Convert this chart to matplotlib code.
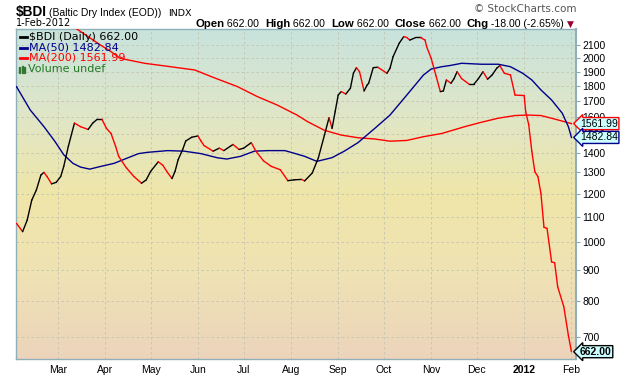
import numpy as np
import matplotlib
matplotlib.use("Agg")
import matplotlib.pyplot as plt
import matplotlib.dates as mdates
from matplotlib.colors import LinearSegmentedColormap
from matplotlib.transforms import blended_transform_factory
from matplotlib.patches import Rectangle

# ---- data ----
bdi_dates = ["2011-02-02", "2011-02-06", "2011-02-09", "2011-02-12", "2011-02-15", "2011-02-18",
             "2011-02-20", "2011-02-22", "2011-02-25", "2011-02-28", "2011-03-03", "2011-03-05",
             "2011-03-08", "2011-03-12", "2011-03-16", "2011-03-21", "2011-03-24", "2011-03-27",
             "2011-03-30", "2011-04-02", "2011-04-05", "2011-04-08", "2011-04-10", "2011-04-15",
             "2011-04-20", "2011-04-25", "2011-04-28", "2011-05-01", "2011-05-06", "2011-05-09",
             "2011-05-12", "2011-05-15", "2011-05-17", "2011-05-19", "2011-05-22", "2011-05-24",
             "2011-05-28", "2011-06-01", "2011-06-03", "2011-06-05", "2011-06-11", "2011-06-15",
             "2011-06-18", "2011-06-24", "2011-06-28", "2011-07-01", "2011-07-06", "2011-07-09",
             "2011-07-14", "2011-07-19", "2011-07-25", "2011-07-30", "2011-08-03", "2011-08-08",
             "2011-08-10", "2011-08-15", "2011-08-19", "2011-08-23", "2011-08-26", "2011-08-28",
             "2011-08-30", "2011-09-01", "2011-09-03", "2011-09-06", "2011-09-09", "2011-09-11",
             "2011-09-13", "2011-09-15", "2011-09-18", "2011-09-20", "2011-09-21", "2011-09-24",
             "2011-09-27", "2011-10-03", "2011-10-05", "2011-10-07", "2011-10-11", "2011-10-14",
             "2011-10-16", "2011-10-18", "2011-10-22", "2011-10-25", "2011-10-28", "2011-10-29",
             "2011-11-01", "2011-11-04", "2011-11-07", "2011-11-09", "2011-11-11", "2011-11-14",
             "2011-11-16", "2011-11-18", "2011-11-21", "2011-11-26", "2011-11-29", "2011-12-02",
             "2011-12-05", "2011-12-08", "2011-12-11", "2011-12-14", "2011-12-16", "2011-12-19",
             "2011-12-23", "2011-12-26", "2012-01-01", "2012-01-02", "2012-01-04", "2012-01-06",
             "2012-01-08", "2012-01-10", "2012-01-12", "2012-01-14", "2012-01-16", "2012-01-19",
             "2012-01-21", "2012-01-23", "2012-01-27", "2012-01-30", "2012-02-01"]
bdi_values = [1073, 1040, 1086, 1171, 1216, 1287,
              1300, 1280, 1245, 1252, 1280, 1330,
              1434, 1565, 1544, 1528, 1565, 1588,
              1588, 1534, 1505, 1434, 1381, 1323,
              1280, 1248, 1263, 1305, 1353, 1335,
              1300, 1270, 1305, 1363, 1417, 1463,
              1484, 1491, 1463, 1438, 1408, 1424,
              1411, 1444, 1417, 1424, 1454, 1408,
              1358, 1330, 1313, 1260, 1264, 1266,
              1259, 1297, 1373, 1496, 1597, 1534,
              1633, 1739, 1762, 1746, 1784, 1888,
              1928, 1899, 1766, 1806, 1818, 1928,
              1931, 1888, 1924, 2009, 2113, 2167,
              2160, 2139, 2160, 2160, 2139, 2087,
              1997, 1876, 1762, 1766, 1841, 1818,
              1850, 1899, 1850, 1811, 1811, 1850,
              1899, 1846, 1876, 1924, 1943, 1888,
              1876, 1739, 1736, 1633, 1555, 1408,
              1303, 1280, 1201, 1057, 1053, 928,
              925, 845, 784, 704, 662]

ma50_dates = ["2011-02-02", "2011-02-11", "2011-02-20", "2011-02-27", "2011-03-05", "2011-03-11",
              "2011-03-16", "2011-03-22", "2011-03-29", "2011-04-07", "2011-04-16", "2011-04-23",
              "2011-04-29", "2011-05-08", "2011-05-12", "2011-05-23", "2011-06-03", "2011-06-14",
              "2011-06-20", "2011-06-29", "2011-07-08", "2011-07-17", "2011-07-28", "2011-08-01",
              "2011-08-10", "2011-08-18", "2011-08-28", "2011-09-05", "2011-09-14", "2011-09-25",
              "2011-10-05", "2011-10-16", "2011-10-27", "2011-11-01", "2011-11-08", "2011-11-13",
              "2011-11-21", "2011-12-04", "2011-12-15", "2011-12-23", "2011-12-31", "2012-01-06",
              "2012-01-12", "2012-01-19", "2012-01-26", "2012-01-30", "2012-02-01"]
ma50_values = [1795, 1644, 1544, 1463, 1389, 1345,
               1326, 1316, 1329, 1345, 1373, 1395,
               1402, 1408, 1411, 1408, 1395, 1373,
               1367, 1381, 1408, 1411, 1411, 1402,
               1381, 1355, 1374, 1408, 1454, 1534,
               1613, 1739, 1876, 1918, 1935, 1943,
               1960, 1953, 1953, 1935, 1888, 1841,
               1773, 1707, 1624, 1544, 1482.84]

ma200_dates = ["2011-03-13", "2011-03-29", "2011-04-05", "2011-04-11", "2011-04-27", "2011-05-14",
               "2011-05-30", "2011-06-10", "2011-06-27", "2011-07-10", "2011-07-23", "2011-08-05",
               "2011-08-12", "2011-08-23", "2011-09-03", "2011-09-14", "2011-09-25", "2011-10-05",
               "2011-10-16", "2011-10-27", "2011-11-08", "2011-11-23", "2011-12-04", "2011-12-15",
               "2011-12-26", "2012-01-03", "2012-01-12", "2012-01-21", "2012-02-01"]
ma200_values = [2235, 2100, 2048, 1997, 1960, 1935,
                1911, 1863, 1795, 1729, 1675, 1613,
                1573, 1523, 1496, 1481, 1474, 1462,
                1466, 1487, 1505, 1544, 1570, 1594,
                1610, 1613, 1610, 1589, 1561.99]

y_ticks = [700, 800, 900, 1000, 1100, 1200, 1300, 1400, 1500, 1600, 1700, 1800, 1900, 2000, 2100]
month_ticks = ["2011-03-01", "2011-04-01", "2011-05-01", "2011-06-01", "2011-07-01", "2011-08-01",
               "2011-09-01", "2011-10-01", "2011-11-01", "2011-12-01", "2012-01-01", "2012-02-01"]
month_labels = ["Mar", "Apr", "May", "Jun", "Jul", "Aug", "Sep", "Oct", "Nov", "Dec", "2012", "Feb"]

W, H = 620, 376


def fx(px):
    return px / W


def fy(py):
    return 1 - py / H


fig = plt.figure(figsize=(W / 100, H / 100), dpi=100)
fig.patch.set_facecolor("white")
ax = fig.add_axes([fx(16), 1 - 359 / H, 560 / W, 330 / H])

# background gradient
bg = LinearSegmentedColormap.from_list("bg", ["#ecd4bb", "#efe2b4", "#efe6a9", "#dfe6c8", "#c8e3dd"])
grad = np.linspace(0, 1, 256).reshape(-1, 1)
ax.imshow(grad, cmap=bg, extent=[0, 1, 0, 1], transform=ax.transAxes,
          aspect="auto", origin="lower", zorder=0)

to_num = lambda ds: mdates.date2num(np.array(ds, dtype="datetime64[D]"))
bx = to_num(bdi_dates)

ax.plot(to_num(ma200_dates), ma200_values, color="#ff0000", lw=1.0, zorder=3)
ax.plot(to_num(ma50_dates), ma50_values, color="#00008b", lw=1.0, zorder=3)
for i in range(len(bx) - 1):
    c = "black" if bdi_values[i + 1] >= bdi_values[i] else "#ff0000"
    ax.plot(bx[i:i + 2], bdi_values[i:i + 2], color=c, lw=1.0, zorder=4,
            solid_capstyle="round")

ax.set_yscale("log")
ax.set_ylim(644, 2230)
ax.set_xlim(mdates.date2num(np.datetime64("2011-02-01T16:00")),
            mdates.date2num(np.datetime64("2012-02-04")))
ax.yaxis.tick_right()
ax.set_yticks(y_ticks)
ax.set_yticklabels([str(v) for v in y_ticks])
ax.yaxis.set_minor_locator(matplotlib.ticker.NullLocator())
ax.set_xticks(to_num(month_ticks))
ax.set_xticklabels(month_labels)
for lab in ax.get_xticklabels() + ax.get_yticklabels():
    lab.set_fontfamily("Liberation Sans")
    lab.set_fontsize(7.5)
ax.get_xticklabels()[10].set_fontweight("bold")
ax.tick_params(axis="y", length=3, pad=1.5, color="#8aaab0")
ax.tick_params(axis="x", length=0, pad=4)
ax.grid(True, color="#c4c4b0", lw=0.6, linestyle=(0, (3, 3)))
for s in ax.spines.values():
    s.set_color("#8fb0b8")
    s.set_linewidth(1.0)
ax.spines["right"].set_linewidth(1.5)

# value tags on the right
tr = blended_transform_factory(fig.transFigure, ax.transData)
tag_kw = dict(transform=tr, ha="left", va="center", fontsize=7.5, family="Liberation Sans", zorder=10,
              clip_on=False)
ax.text(fx(580), ma200_values[-1], "1561.99",
        bbox=dict(boxstyle="larrow,pad=0.1", fc="#ccffff", ec="#ff0000", lw=1), **tag_kw)
ax.text(fx(580), ma50_values[-1], "1482.84",
        bbox=dict(boxstyle="larrow,pad=0.1", fc="#ccffff", ec="#00008b", lw=1), **tag_kw)
ax.text(fx(580), bdi_values[-1], "662.00", fontweight="bold",
        bbox=dict(boxstyle="larrow,pad=0.1", fc="#ccffff", ec="black", lw=1), **tag_kw)

# legend
leg = [("$BDI (Daily) 662.00", "black", 37),
       ("MA(50) 1482.84", "#00008b", 47.5),
       ("MA(200) 1561.99", "#ff0000", 58)]
for txt, c, y in leg:
    fig.add_artist(plt.Line2D([fx(20), fx(27)], [fy(y), fy(y)], color=c, lw=2))
    fig.text(fx(29.5), fy(y), txt, color=c, fontsize=8, va="center", family="DejaVu Sans")
for bx0, bh in [(19, 5), (21.5, 7), (24, 6)]:
    fig.add_artist(Rectangle((fx(bx0), fy(72.5)), 1.3 / W, bh / H, color="#337733",
                             transform=fig.transFigure))
fig.text(fx(27.5), fy(68.5), "Volume undef", color="#227722", fontsize=8, va="center",
         family="DejaVu Sans")

# header
fig.canvas.draw()
r = fig.canvas.get_renderer()
fig.text(fx(16), fy(16), "$BDI", fontsize=9.8, fontweight="bold", family="Liberation Sans")
fig.text(fx(49), fy(15.5), "(Baltic Dry Index (EOD))", fontsize=7.5, family="Liberation Sans")
fig.text(fx(168), fy(15.5), "INDX", fontsize=6.8, family="DejaVu Sans")
fig.text(fx(16), fy(26.5), "1-Feb-2012", fontsize=7, family="DejaVu Sans")
fig.text(fx(576), fy(12), "\u00a9 StockCharts.com", fontsize=7.5, ha="right", color="#555555",
         family="DejaVu Sans")

parts = [("Open", "bold"), (" 662.00  ", "normal"), ("High", "bold"), (" 662.00  ", "normal"),
         ("Low", "bold"), (" 662.00  ", "normal"), ("Close", "bold"), (" 662.00  ", "normal"),
         ("Chg", "bold"), (" -18.00 (-2.65%) ", "normal")]
widths = []
for txt, w in parts:
    tmp = fig.text(0, 0, txt, fontsize=8.2 if w == "bold" else 7.6, fontweight=w,
                   family="Liberation Sans")
    widths.append(tmp.get_window_extent(r).width)
    tmp.remove()
x = 567 - sum(widths)
for (txt, w), wd in zip(parts, widths):
    fig.text(fx(x), fy(27), txt, fontsize=8.2 if w == "bold" else 7.6, fontweight=w,
             family="Liberation Sans")
    x += wd
fig.text(fx(x), fy(27), "\u25bc", fontsize=6.5, color="#990033", family="DejaVu Sans")

fig.savefig("out.png", dpi=100)
